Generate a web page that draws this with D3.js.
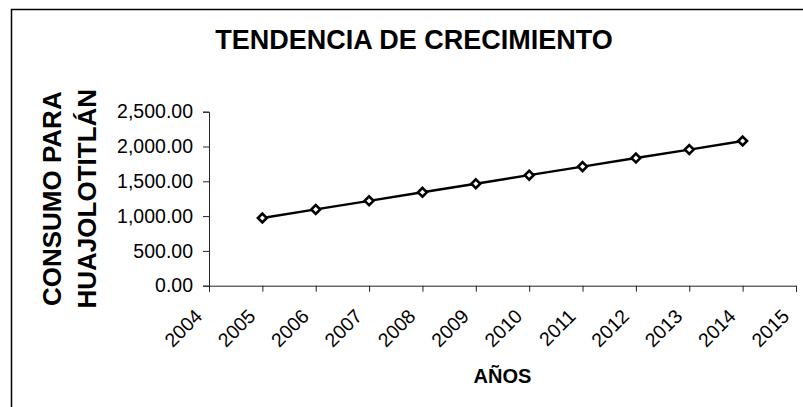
<!DOCTYPE html>
<html lang="es">
<head>
<meta charset="UTF-8">
<script src="https://d3js.org/d3.v7.min.js"></script>
<style>
  body { margin: 0; background: #fff; }
  text { font-family: "Liberation Sans", Arial, sans-serif; fill: #000; }
</style>
</head>
<body>
<div id="chart"></div>
<script>
// datos
const years = [2005, 2006, 2007, 2008, 2009, 2010, 2011, 2012, 2013, 2014];
const consumo = [973, 1096, 1219, 1342, 1465, 1588, 1711, 1834, 1956, 2079];
const xTicks = [2004, 2005, 2006, 2007, 2008, 2009, 2010, 2011, 2012, 2013, 2014, 2015];
const yTicks = [0, 500, 1000, 1500, 2000, 2500];

const width = 803, height = 407;
const svg = d3.select("#chart").append("svg")
    .attr("width", width)
    .attr("height", height);

// marco del area del grafico (solo se ven arriba e izquierda)
svg.append("rect")
    .attr("x", 11.5).attr("y", 9.5)
    .attr("width", 820).attr("height", 420)
    .attr("fill", "none").attr("stroke", "#000").attr("stroke-width", 1.5);

const plot = { left: 209, right: 796, top: 111.7, bottom: 285.7 };

const x = d3.scaleLinear().domain([2004, 2015]).range([plot.left, plot.right]);
const y = d3.scaleLinear().domain([0, 2500]).range([plot.bottom, plot.top]);

const fmt = d3.format(",.2f");

// eje y
const yAxis = svg.append("g")
    .attr("transform", `translate(${plot.left},0)`)
    .call(d3.axisLeft(y).tickValues(yTicks).tickFormat(fmt).tickSize(6).tickPadding(10));
yAxis.selectAll("text").style("font-size", "19.5px");

// eje x
const xAxis = svg.append("g")
    .attr("transform", `translate(0,${plot.bottom})`)
    .call(d3.axisBottom(x).tickValues(xTicks).tickFormat(d3.format("d")).tickSize(6));
xAxis.selectAll("text")
    .style("font-size", "19.5px")
    .attr("text-anchor", "end")
    .attr("transform", "translate(-11,27) rotate(-45)")
    .attr("dy", "0.35em")
    .attr("y", 0);

svg.selectAll(".domain, .tick line").attr("stroke", "#222");

// linea
const line = d3.line()
    .x((d, i) => x(years[i]))
    .y(d => y(d));

svg.append("path")
    .datum(consumo)
    .attr("d", line)
    .attr("fill", "none")
    .attr("stroke", "#000")
    .attr("stroke-width", 2.4);

// marcadores rombo
svg.selectAll(".marker")
    .data(consumo)
    .enter()
    .append("path")
    .attr("class", "marker")
    .attr("d", d3.symbol().type(d3.symbolDiamond2).size(50))
    .attr("transform", (d, i) => `translate(${x(years[i])},${y(d)})`)
    .attr("fill", "#fff")
    .attr("stroke", "#000")
    .attr("stroke-width", 2.6);

// titulos
svg.append("text")
    .attr("x", 414).attr("y", 49)
    .attr("text-anchor", "middle")
    .style("font-size", "27px").style("font-weight", "bold")
    .text("TENDENCIA DE CRECIMIENTO");

svg.append("text")
    .attr("x", (plot.left + plot.right) / 2).attr("y", 383)
    .attr("text-anchor", "middle")
    .style("font-size", "20px").style("font-weight", "bold")
    .text("AÑOS");

const yLabel = svg.append("g")
    .attr("transform", `translate(0,${(plot.top + plot.bottom) / 2}) rotate(-90)`);
yLabel.append("text")
    .attr("x", 0).attr("y", 61)
    .attr("text-anchor", "middle")
    .style("font-size", "26px").style("font-weight", "bold")
    .text("CONSUMO PARA");
yLabel.append("text")
    .attr("x", 0).attr("y", 96)
    .attr("text-anchor", "middle")
    .style("font-size", "26px").style("font-weight", "bold")
    .text("HUAJOLOTITLÁN");
</script>
</body>
</html>
